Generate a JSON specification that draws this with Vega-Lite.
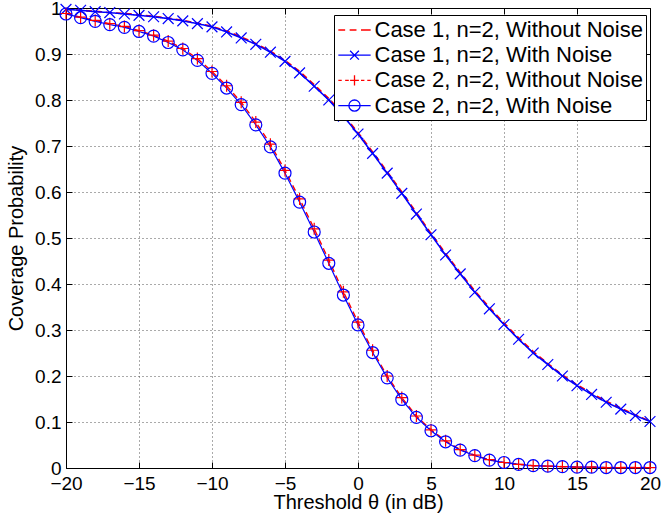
{
  "$schema": "https://vega.github.io/schema/vega-lite/v6.json",
  "width": 584,
  "height": 460,
  "autosize": "none",
  "padding": {"left": 66, "top": 8, "right": 12, "bottom": 53},
  "background": "white",
  "config": {"view": {"stroke": null}, "font": "Liberation Sans"},
  "datasets": {
    "curves": [
      {"s":"Case 1, n=2, Without Noise","x":-20,"y":0.997},{"s":"Case 1, n=2, Without Noise","x":-19,"y":0.995},{"s":"Case 1, n=2, Without Noise","x":-18,"y":0.993},{"s":"Case 1, n=2, Without Noise","x":-17,"y":0.990},{"s":"Case 1, n=2, Without Noise","x":-16,"y":0.988},{"s":"Case 1, n=2, Without Noise","x":-15,"y":0.985},{"s":"Case 1, n=2, Without Noise","x":-14,"y":0.982},{"s":"Case 1, n=2, Without Noise","x":-13,"y":0.978},{"s":"Case 1, n=2, Without Noise","x":-12,"y":0.973},{"s":"Case 1, n=2, Without Noise","x":-11,"y":0.967},{"s":"Case 1, n=2, Without Noise","x":-10,"y":0.960},{"s":"Case 1, n=2, Without Noise","x":-9,"y":0.950},{"s":"Case 1, n=2, Without Noise","x":-8,"y":0.937},{"s":"Case 1, n=2, Without Noise","x":-7,"y":0.923},{"s":"Case 1, n=2, Without Noise","x":-6,"y":0.906},{"s":"Case 1, n=2, Without Noise","x":-5,"y":0.886},{"s":"Case 1, n=2, Without Noise","x":-4,"y":0.862},{"s":"Case 1, n=2, Without Noise","x":-3,"y":0.833},{"s":"Case 1, n=2, Without Noise","x":-2,"y":0.803},{"s":"Case 1, n=2, Without Noise","x":-1,"y":0.768},{"s":"Case 1, n=2, Without Noise","x":0,"y":0.729},{"s":"Case 1, n=2, Without Noise","x":1,"y":0.687},{"s":"Case 1, n=2, Without Noise","x":2,"y":0.644},{"s":"Case 1, n=2, Without Noise","x":3,"y":0.600},{"s":"Case 1, n=2, Without Noise","x":4,"y":0.555},{"s":"Case 1, n=2, Without Noise","x":5,"y":0.510},{"s":"Case 1, n=2, Without Noise","x":6,"y":0.466},{"s":"Case 1, n=2, Without Noise","x":7,"y":0.425},{"s":"Case 1, n=2, Without Noise","x":8,"y":0.385},{"s":"Case 1, n=2, Without Noise","x":9,"y":0.349},{"s":"Case 1, n=2, Without Noise","x":10,"y":0.315},{"s":"Case 1, n=2, Without Noise","x":11,"y":0.283},{"s":"Case 1, n=2, Without Noise","x":12,"y":0.253},{"s":"Case 1, n=2, Without Noise","x":13,"y":0.227},{"s":"Case 1, n=2, Without Noise","x":14,"y":0.202},{"s":"Case 1, n=2, Without Noise","x":15,"y":0.181},{"s":"Case 1, n=2, Without Noise","x":16,"y":0.162},{"s":"Case 1, n=2, Without Noise","x":17,"y":0.145},{"s":"Case 1, n=2, Without Noise","x":18,"y":0.130},{"s":"Case 1, n=2, Without Noise","x":19,"y":0.115},{"s":"Case 1, n=2, Without Noise","x":20,"y":0.102},
      {"s":"Case 1, n=2, With Noise","x":-20,"y":0.997},{"s":"Case 1, n=2, With Noise","x":-19,"y":0.995},{"s":"Case 1, n=2, With Noise","x":-18,"y":0.992},{"s":"Case 1, n=2, With Noise","x":-17,"y":0.990},{"s":"Case 1, n=2, With Noise","x":-16,"y":0.987},{"s":"Case 1, n=2, With Noise","x":-15,"y":0.984},{"s":"Case 1, n=2, With Noise","x":-14,"y":0.981},{"s":"Case 1, n=2, With Noise","x":-13,"y":0.977},{"s":"Case 1, n=2, With Noise","x":-12,"y":0.972},{"s":"Case 1, n=2, With Noise","x":-11,"y":0.966},{"s":"Case 1, n=2, With Noise","x":-10,"y":0.959},{"s":"Case 1, n=2, With Noise","x":-9,"y":0.948},{"s":"Case 1, n=2, With Noise","x":-8,"y":0.935},{"s":"Case 1, n=2, With Noise","x":-7,"y":0.921},{"s":"Case 1, n=2, With Noise","x":-6,"y":0.904},{"s":"Case 1, n=2, With Noise","x":-5,"y":0.884},{"s":"Case 1, n=2, With Noise","x":-4,"y":0.859},{"s":"Case 1, n=2, With Noise","x":-3,"y":0.830},{"s":"Case 1, n=2, With Noise","x":-2,"y":0.800},{"s":"Case 1, n=2, With Noise","x":-1,"y":0.765},{"s":"Case 1, n=2, With Noise","x":0,"y":0.726},{"s":"Case 1, n=2, With Noise","x":1,"y":0.684},{"s":"Case 1, n=2, With Noise","x":2,"y":0.641},{"s":"Case 1, n=2, With Noise","x":3,"y":0.597},{"s":"Case 1, n=2, With Noise","x":4,"y":0.552},{"s":"Case 1, n=2, With Noise","x":5,"y":0.507},{"s":"Case 1, n=2, With Noise","x":6,"y":0.463},{"s":"Case 1, n=2, With Noise","x":7,"y":0.422},{"s":"Case 1, n=2, With Noise","x":8,"y":0.382},{"s":"Case 1, n=2, With Noise","x":9,"y":0.346},{"s":"Case 1, n=2, With Noise","x":10,"y":0.312},{"s":"Case 1, n=2, With Noise","x":11,"y":0.280},{"s":"Case 1, n=2, With Noise","x":12,"y":0.250},{"s":"Case 1, n=2, With Noise","x":13,"y":0.225},{"s":"Case 1, n=2, With Noise","x":14,"y":0.200},{"s":"Case 1, n=2, With Noise","x":15,"y":0.179},{"s":"Case 1, n=2, With Noise","x":16,"y":0.160},{"s":"Case 1, n=2, With Noise","x":17,"y":0.143},{"s":"Case 1, n=2, With Noise","x":18,"y":0.128},{"s":"Case 1, n=2, With Noise","x":19,"y":0.114},{"s":"Case 1, n=2, With Noise","x":20,"y":0.101},
      {"s":"Case 2, n=2, Without Noise","x":-20,"y":0.988},{"s":"Case 2, n=2, Without Noise","x":-19,"y":0.980},{"s":"Case 2, n=2, Without Noise","x":-18,"y":0.973},{"s":"Case 2, n=2, Without Noise","x":-17,"y":0.966},{"s":"Case 2, n=2, Without Noise","x":-16,"y":0.960},{"s":"Case 2, n=2, Without Noise","x":-15,"y":0.951},{"s":"Case 2, n=2, Without Noise","x":-14,"y":0.941},{"s":"Case 2, n=2, Without Noise","x":-13,"y":0.928},{"s":"Case 2, n=2, Without Noise","x":-12,"y":0.912},{"s":"Case 2, n=2, Without Noise","x":-11,"y":0.890},{"s":"Case 2, n=2, Without Noise","x":-10,"y":0.862},{"s":"Case 2, n=2, Without Noise","x":-9,"y":0.831},{"s":"Case 2, n=2, Without Noise","x":-8,"y":0.795},{"s":"Case 2, n=2, Without Noise","x":-7,"y":0.752},{"s":"Case 2, n=2, Without Noise","x":-6,"y":0.704},{"s":"Case 2, n=2, Without Noise","x":-5,"y":0.647},{"s":"Case 2, n=2, Without Noise","x":-4,"y":0.585},{"s":"Case 2, n=2, Without Noise","x":-3,"y":0.520},{"s":"Case 2, n=2, Without Noise","x":-2,"y":0.452},{"s":"Case 2, n=2, Without Noise","x":-1,"y":0.383},{"s":"Case 2, n=2, Without Noise","x":0,"y":0.317},{"s":"Case 2, n=2, Without Noise","x":1,"y":0.256},{"s":"Case 2, n=2, Without Noise","x":2,"y":0.200},{"s":"Case 2, n=2, Without Noise","x":3,"y":0.153},{"s":"Case 2, n=2, Without Noise","x":4,"y":0.113},{"s":"Case 2, n=2, Without Noise","x":5,"y":0.083},{"s":"Case 2, n=2, Without Noise","x":6,"y":0.059},{"s":"Case 2, n=2, Without Noise","x":7,"y":0.040},{"s":"Case 2, n=2, Without Noise","x":8,"y":0.028},{"s":"Case 2, n=2, Without Noise","x":9,"y":0.018},{"s":"Case 2, n=2, Without Noise","x":10,"y":0.012},{"s":"Case 2, n=2, Without Noise","x":11,"y":0.008},{"s":"Case 2, n=2, Without Noise","x":12,"y":0.005},{"s":"Case 2, n=2, Without Noise","x":13,"y":0.004},{"s":"Case 2, n=2, Without Noise","x":14,"y":0.003},{"s":"Case 2, n=2, Without Noise","x":15,"y":0.002},{"s":"Case 2, n=2, Without Noise","x":16,"y":0.002},{"s":"Case 2, n=2, Without Noise","x":17,"y":0.001},{"s":"Case 2, n=2, Without Noise","x":18,"y":0.001},{"s":"Case 2, n=2, Without Noise","x":19,"y":0.001},{"s":"Case 2, n=2, Without Noise","x":20,"y":0.001},
      {"s":"Case 2, n=2, With Noise","x":-20,"y":0.987},{"s":"Case 2, n=2, With Noise","x":-19,"y":0.979},{"s":"Case 2, n=2, With Noise","x":-18,"y":0.971},{"s":"Case 2, n=2, With Noise","x":-17,"y":0.964},{"s":"Case 2, n=2, With Noise","x":-16,"y":0.958},{"s":"Case 2, n=2, With Noise","x":-15,"y":0.949},{"s":"Case 2, n=2, With Noise","x":-14,"y":0.939},{"s":"Case 2, n=2, With Noise","x":-13,"y":0.925},{"s":"Case 2, n=2, With Noise","x":-12,"y":0.909},{"s":"Case 2, n=2, With Noise","x":-11,"y":0.886},{"s":"Case 2, n=2, With Noise","x":-10,"y":0.858},{"s":"Case 2, n=2, With Noise","x":-9,"y":0.826},{"s":"Case 2, n=2, With Noise","x":-8,"y":0.790},{"s":"Case 2, n=2, With Noise","x":-7,"y":0.746},{"s":"Case 2, n=2, With Noise","x":-6,"y":0.698},{"s":"Case 2, n=2, With Noise","x":-5,"y":0.641},{"s":"Case 2, n=2, With Noise","x":-4,"y":0.578},{"s":"Case 2, n=2, With Noise","x":-3,"y":0.513},{"s":"Case 2, n=2, With Noise","x":-2,"y":0.445},{"s":"Case 2, n=2, With Noise","x":-1,"y":0.376},{"s":"Case 2, n=2, With Noise","x":0,"y":0.311},{"s":"Case 2, n=2, With Noise","x":1,"y":0.251},{"s":"Case 2, n=2, With Noise","x":2,"y":0.196},{"s":"Case 2, n=2, With Noise","x":3,"y":0.149},{"s":"Case 2, n=2, With Noise","x":4,"y":0.110},{"s":"Case 2, n=2, With Noise","x":5,"y":0.081},{"s":"Case 2, n=2, With Noise","x":6,"y":0.057},{"s":"Case 2, n=2, With Noise","x":7,"y":0.039},{"s":"Case 2, n=2, With Noise","x":8,"y":0.027},{"s":"Case 2, n=2, With Noise","x":9,"y":0.017},{"s":"Case 2, n=2, With Noise","x":10,"y":0.012},{"s":"Case 2, n=2, With Noise","x":11,"y":0.008},{"s":"Case 2, n=2, With Noise","x":12,"y":0.005},{"s":"Case 2, n=2, With Noise","x":13,"y":0.004},{"s":"Case 2, n=2, With Noise","x":14,"y":0.003},{"s":"Case 2, n=2, With Noise","x":15,"y":0.002},{"s":"Case 2, n=2, With Noise","x":16,"y":0.002},{"s":"Case 2, n=2, With Noise","x":17,"y":0.001},{"s":"Case 2, n=2, With Noise","x":18,"y":0.001},{"s":"Case 2, n=2, With Noise","x":19,"y":0.001},{"s":"Case 2, n=2, With Noise","x":20,"y":0.001}
    ]
  },
  "data": {"name": "curves"},
  "resolve": {"scale": {"shape": "independent", "color": "independent"}},
  "layer": [
    {
      "mark": {"type": "line", "clip": false},
      "encoding": {
        "x": {
          "field": "x", "type": "quantitative",
          "scale": {"domain": [-20, 20], "nice": false, "zero": false},
          "axis": {
            "orient": "bottom",
            "values": [-20, -15, -10, -5, 0, 5, 10, 15, 20],
            "grid": true, "gridColor": "#555555", "gridDash": [1, 3], "gridWidth": 1, "gridOpacity": 1,
            "domainColor": "black", "domainWidth": 1,
            "tickColor": "black", "tickSize": -6, "tickWidth": 1,
            "labelPadding": 12.5, "labelFont": "Liberation Sans", "labelFontSize": 19, "labelColor": "black",
            "labelFlush": false, "labelOverlap": false,
            "title": "Threshold θ (in dB)", "titleFont": "Liberation Sans", "titleFontSize": 20,
            "titleFontWeight": "normal", "titleColor": "black", "titleBaseline": "alphabetic", "titleY": 40
          }
        },
        "y": {
          "field": "y", "type": "quantitative",
          "scale": {"domain": [0, 1], "nice": false, "zero": false},
          "axis": {
            "orient": "left",
            "values": [0, 0.1, 0.2, 0.3, 0.4, 0.5, 0.6, 0.7, 0.8, 0.9, 1],
            "format": "~g",
            "grid": true, "gridColor": "#555555", "gridDash": [1, 3], "gridWidth": 1, "gridOpacity": 1,
            "domainColor": "black", "domainWidth": 1,
            "tickColor": "black", "tickSize": -6, "tickWidth": 1,
            "labelPadding": 11, "labelFont": "Liberation Sans", "labelFontSize": 19, "labelColor": "black",
            "labelFlush": false, "labelOverlap": false,
            "title": "Coverage Probability", "titleFont": "Liberation Sans", "titleFontSize": 20,
            "titleFontWeight": "normal", "titleColor": "black", "titleBaseline": "alphabetic", "titleX": -43.4
          }
        },
        "color": {
          "field": "s", "type": "nominal",
          "scale": {
            "domain": ["Case 1, n=2, Without Noise", "Case 1, n=2, With Noise", "Case 2, n=2, Without Noise", "Case 2, n=2, With Noise"],
            "range": ["#ff0000", "#0000ff", "#ff0000", "#0000ff"]
          },
          "legend": null
        },
        "strokeDash": {
          "field": "s", "type": "nominal",
          "scale": {
            "domain": ["Case 1, n=2, Without Noise", "Case 1, n=2, With Noise", "Case 2, n=2, Without Noise", "Case 2, n=2, With Noise"],
            "range": [[6, 4], [1, 0], [6, 4], [1, 0]]
          },
          "legend": null
        },
        "strokeWidth": {
          "field": "s", "type": "nominal",
          "scale": {
            "domain": ["Case 1, n=2, Without Noise", "Case 1, n=2, With Noise", "Case 2, n=2, Without Noise", "Case 2, n=2, With Noise"],
            "range": [1.7, 1.2, 1.7, 1.2]
          },
          "legend": null
        }
      }
    },
    {
      "transform": [{"filter": "datum.s != 'Case 1, n=2, Without Noise'"}],
      "mark": {"type": "point", "filled": false, "strokeWidth": 1.2, "size": 144, "opacity": 1, "clip": false},
      "encoding": {
        "x": {
          "field": "x", "type": "quantitative",
          "axis": {
            "orient": "top",
            "values": [-20, -15, -10, -5, 0, 5, 10, 15, 20],
            "grid": false, "labels": false, "title": null,
            "domainColor": "black", "domainWidth": 1,
            "tickColor": "black", "tickSize": -6, "tickWidth": 1
          }
        },
        "y": {
          "field": "y", "type": "quantitative",
          "axis": {
            "orient": "right",
            "values": [0, 0.1, 0.2, 0.3, 0.4, 0.5, 0.6, 0.7, 0.8, 0.9, 1],
            "grid": false, "labels": false, "title": null,
            "domainColor": "black", "domainWidth": 1,
            "tickColor": "black", "tickSize": -6, "tickWidth": 1
          }
        },
        "color": {
          "field": "s", "type": "nominal",
          "scale": {
            "domain": ["Case 1, n=2, Without Noise", "Case 1, n=2, With Noise", "Case 2, n=2, Without Noise", "Case 2, n=2, With Noise"],
            "range": ["#ff0000", "#0000ff", "#ff0000", "#0000ff"]
          },
          "legend": null
        },
        "shape": {
          "field": "s", "type": "nominal",
          "scale": {
            "domain": ["Case 1, n=2, Without Noise", "Case 1, n=2, With Noise", "Case 2, n=2, Without Noise", "Case 2, n=2, With Noise"],
            "range": ["M0,0L0,0", "M-0.9,-0.9L0.9,0.9M-0.9,0.9L0.9,-0.9", "M-1,0L1,0M0,-1L0,1", "M-1,0A1,1,0,1,1,1,0A1,1,0,1,1,-1,0"]
          },
          "legend": null
        }
      }
    },
    {
      "transform": [{"filter": "false"}],
      "mark": {"type": "point", "filled": false, "strokeWidth": 1.3, "opacity": 1},
      "encoding": {
        "color": {
          "field": "s", "type": "nominal",
          "scale": {
            "domain": ["Case 1, n=2, Without Noise", "Case 1, n=2, With Noise", "Case 2, n=2, Without Noise", "Case 2, n=2, With Noise"],
            "range": ["#ff0000", "#0000ff", "#ff0000", "#0000ff"]
          },
          "legend": {
            "orient": "none", "legendX": 268, "legendY": 7,
            "title": null,
            "padding": 3, "rowPadding": 2.2,
            "fillColor": "white", "strokeColor": "black", "cornerRadius": 0,
            "labelFont": "Liberation Sans", "labelFontSize": 22, "labelColor": "black", "labelLimit": 400,
            "symbolSize": 484, "symbolStrokeWidth": 1.3, "symbolFillColor": "transparent",
            "symbolOffset": 5.5, "labelOffset": 8
          }
        },
        "shape": {
          "field": "s", "type": "nominal",
          "scale": {
            "domain": ["Case 1, n=2, Without Noise", "Case 1, n=2, With Noise", "Case 2, n=2, Without Noise", "Case 2, n=2, With Noise"],
            "range": [
              "M-1.47,0L-0.85,0M-0.44,0L0.18,0M0.59,0L1.47,0",
              "M-1.47,0L1.47,0M-0.4,-0.4L0.4,0.4M-0.4,0.4L0.4,-0.4",
              "M-1.47,0L-1.16,0M-0.85,0L-0.52,0M-0.4,0L0.4,0M0,-0.46L0,0.46M0.59,0L0.9,0M1.16,0L1.47,0",
              "M-1.47,0L1.47,0M-0.51,0A0.51,0.51,0,1,1,0.51,0A0.51,0.51,0,1,1,-0.51,0"
            ]
          },
          "legend": {
            "orient": "none", "legendX": 268, "legendY": 7,
            "title": null,
            "padding": 3, "rowPadding": 2.2,
            "fillColor": "white", "strokeColor": "black", "cornerRadius": 0,
            "labelFont": "Liberation Sans", "labelFontSize": 22, "labelColor": "black", "labelLimit": 400,
            "symbolSize": 484, "symbolStrokeWidth": 1.3, "symbolFillColor": "transparent",
            "symbolOffset": 5.5, "labelOffset": 8
          }
        }
      }
    }
  ]
}
